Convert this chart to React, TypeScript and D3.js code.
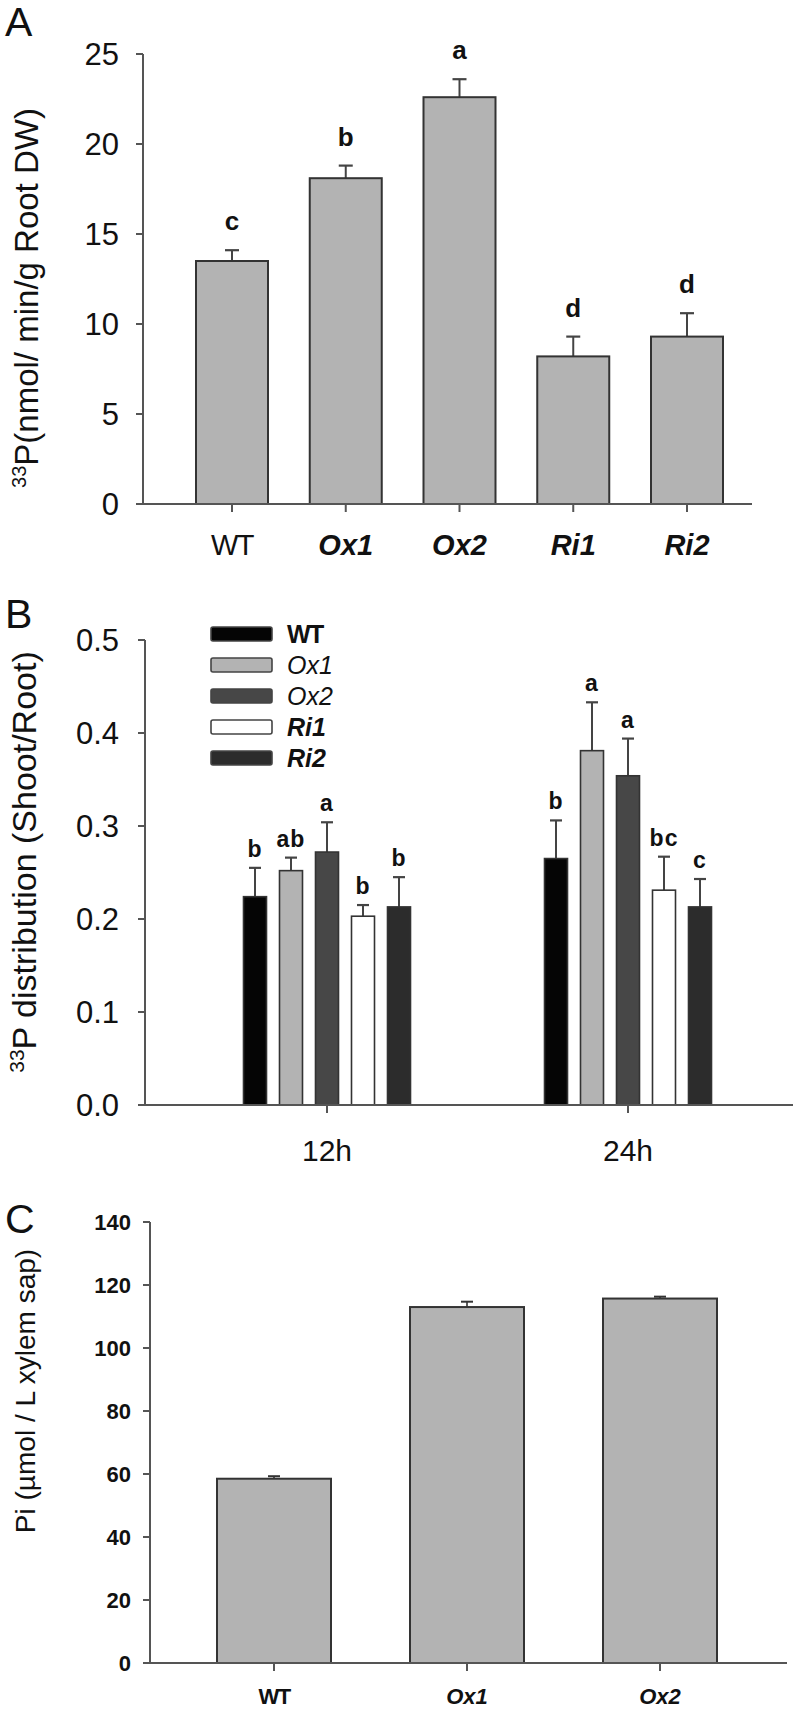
import React from "react";
import * as d3 from "d3";

// ---------- Panel A data ----------
const catsA = ["WT", "Ox1", "Ox2", "Ri1", "Ri2"];
const meansA = [13.5, 18.1, 22.6, 8.2, 9.3];
const errsA = [0.6, 0.7, 1.0, 1.1, 1.3];
const lettersA = ["c", "b", "a", "d", "d"];
const ticksA = [0, 5, 10, 15, 20, 25];

// ---------- Panel B data ----------
const timesB = ["12h", "24h"];
const seriesB = ["WT", "Ox1", "Ox2", "Ri1", "Ri2"];
const means12 = [0.224, 0.252, 0.272, 0.203, 0.213];
const errs12 = [0.031, 0.014, 0.032, 0.012, 0.032];
const means24 = [0.265, 0.381, 0.354, 0.231, 0.213];
const errs24 = [0.041, 0.052, 0.04, 0.036, 0.03];
const letters12 = ["b", "ab", "a", "b", "b"];
const letters24 = ["b", "a", "a", "bc", "c"];
const colorsB = ["#050505", "#b3b3b3", "#474747", "#ffffff", "#2c2c2c"];
const ticksB = [0, 0.1, 0.2, 0.3, 0.4, 0.5];

// ---------- Panel C data ----------
const catsC = ["WT", "Ox1", "Ox2"];
const meansC = [58.5, 113.0, 115.7];
const errsC = [0.8, 1.7, 0.6];
const ticksC = [0, 20, 40, 60, 80, 100, 120, 140];

const FONT = "'Liberation Sans', Arial, Helvetica, sans-serif";
const AX = "#555";
const TXT = "#111";

function PanelA() {
  const y = d3.scaleLinear().domain([0, 25]).range([504, 54]);
  const x = d3.scalePoint().domain(catsA).range([232, 687]);
  const bw = 72;
  const x0 = 143;
  return (
    <g>
      <text x={5} y={36} fontSize={41} fontFamily={FONT} fill={TXT}>A</text>
      {catsA.map((c, i) => {
        const cx = x(c)!;
        const top = y(meansA[i]);
        const cap = y(meansA[i] + errsA[i]);
        return (
          <g key={c}>
            <line x1={cx} x2={cx} y1={top} y2={cap} stroke="#444" strokeWidth={2} />
            <line x1={cx - 7} x2={cx + 7} y1={cap} y2={cap} stroke="#444" strokeWidth={2.2} />
            <rect x={cx - bw / 2} y={top} width={bw} height={y(0) - top} fill="#b3b3b3" stroke="#333" strokeWidth={2} />
            <text x={cx} y={cap - 20} textAnchor="middle" fontSize={26} fontWeight="bold" fontFamily={FONT} fill={TXT}>{lettersA[i]}</text>
            <line x1={cx} x2={cx} y1={y(0)} y2={y(0) + 8} stroke={AX} strokeWidth={2} />
            <text x={cx} y={555} textAnchor="middle" fontSize={29} fontFamily={FONT} fill={TXT}
              fontStyle={i === 0 ? "normal" : "italic"} fontWeight={i === 0 ? "normal" : "bold"}
              letterSpacing={i === 0 ? -1.5 : 0}>{c}</text>
          </g>
        );
      })}
      <line x1={x0} x2={x0} y1={y(25)} y2={y(0)} stroke={AX} strokeWidth={2} />
      <line x1={x0 - 1} x2={752} y1={y(0)} y2={y(0)} stroke={AX} strokeWidth={2} />
      {ticksA.map((t) => (
        <g key={t}>
          <line x1={x0 - 7} x2={x0} y1={y(t)} y2={y(t)} stroke={AX} strokeWidth={2} />
          <text x={119} y={y(t) + 11} textAnchor="end" fontSize={31} fontFamily={FONT} fill={TXT}>{t}</text>
        </g>
      ))}
      <text transform="translate(38,298) rotate(-90)" textAnchor="middle" fontSize={33} fontFamily={FONT} fill={TXT}>
        <tspan fontSize={20} dy={-12}>33</tspan>
        <tspan dy={12}>P(nmol/ min/g Root DW)</tspan>
      </text>
    </g>
  );
}

function PanelB() {
  const y = d3.scaleLinear().domain([0, 0.5]).range([1105, 640]);
  const xg = d3.scalePoint().domain(timesB).range([327, 628]);
  const xs = d3.scalePoint().domain(seriesB).range([-72, 72]);
  const bw = 23;
  const x0 = 145;
  const groups = [
    { t: timesB[0], m: means12, e: errs12, l: letters12 },
    { t: timesB[1], m: means24, e: errs24, l: letters24 },
  ];
  return (
    <g>
      <text x={5} y={628} fontSize={41} fontFamily={FONT} fill={TXT}>B</text>
      {groups.map((g) => (
        <g key={g.t}>
          {seriesB.map((s, i) => {
            const cx = xg(g.t)! + xs(s)!;
            const top = y(g.m[i]);
            const cap = y(g.m[i] + g.e[i]);
            return (
              <g key={s}>
                <line x1={cx} x2={cx} y1={top} y2={cap} stroke="#444" strokeWidth={2} />
                <line x1={cx - 6} x2={cx + 6} y1={cap} y2={cap} stroke="#444" strokeWidth={2.2} />
                <rect x={cx - bw / 2} y={top} width={bw} height={y(0) - top} fill={colorsB[i]} stroke="#333" strokeWidth={1.6} />
                <text x={cx} y={cap - 11} textAnchor="middle" fontSize={23} fontWeight="bold" fontFamily={FONT}
                  fill={TXT} letterSpacing={1}>{g.l[i]}</text>
              </g>
            );
          })}
          <line x1={xg(g.t)!} x2={xg(g.t)!} y1={y(0)} y2={y(0) + 8} stroke={AX} strokeWidth={2} />
          <text x={xg(g.t)!} y={1161} textAnchor="middle" fontSize={30} fontFamily={FONT} fill={TXT}>{g.t}</text>
        </g>
      ))}
      <line x1={x0} x2={x0} y1={y(0.5)} y2={y(0)} stroke={AX} strokeWidth={2} />
      <line x1={x0 - 1} x2={793} y1={y(0)} y2={y(0)} stroke={AX} strokeWidth={2} />
      {ticksB.map((t) => (
        <g key={t}>
          <line x1={x0 - 7} x2={x0} y1={y(t)} y2={y(t)} stroke={AX} strokeWidth={2} />
          <text x={119} y={y(t) + 11} textAnchor="end" fontSize={31} fontFamily={FONT} fill={TXT}>{d3.format(".1f")(t)}</text>
        </g>
      ))}
      {/* legend */}
      {seriesB.map((s, i) => {
        const ly = 634 + i * 31;
        return (
          <g key={s}>
            <rect x={211} y={ly - 7} width={61} height={14} rx={2} fill={colorsB[i]} stroke="#444" strokeWidth={1.6} />
            <text x={287} y={ly + 9} fontSize={25} fontFamily={FONT} fill={TXT}
              fontStyle={i === 0 ? "normal" : "italic"}
              fontWeight={i === 0 || i >= 3 ? "bold" : "normal"}
              letterSpacing={i === 0 ? -1.5 : 0}>{s}</text>
          </g>
        );
      })}
      <text transform="translate(36,862) rotate(-90)" textAnchor="middle" fontSize={34} fontFamily={FONT} fill={TXT}>
        <tspan fontSize={21} dy={-12}>33</tspan>
        <tspan dy={12}>P distribution (Shoot/Root)</tspan>
      </text>
    </g>
  );
}

function PanelC() {
  const y = d3.scaleLinear().domain([0, 140]).range([1663, 1222]);
  const x = d3.scalePoint().domain(catsC).range([274, 660]);
  const bw = 114;
  const x0 = 150;
  return (
    <g>
      <text x={5} y={1233} fontSize={41} fontFamily={FONT} fill={TXT}>C</text>
      {catsC.map((c, i) => {
        const cx = x(c)!;
        const top = y(meansC[i]);
        const cap = y(meansC[i] + errsC[i]);
        return (
          <g key={c}>
            <line x1={cx} x2={cx} y1={top} y2={cap} stroke="#333" strokeWidth={1.6} />
            <line x1={cx - 6} x2={cx + 6} y1={cap} y2={cap} stroke="#333" strokeWidth={2} />
            <rect x={cx - bw / 2} y={top} width={bw} height={y(0) - top} fill="#b3b3b3" stroke="#333" strokeWidth={2} />
            <line x1={cx} x2={cx} y1={y(0)} y2={y(0) + 8} stroke={AX} strokeWidth={2} />
            <text x={cx} y={1704} textAnchor="middle" fontSize={22} fontFamily={FONT} fill={TXT}
              fontWeight="bold" fontStyle={i === 0 ? "normal" : "italic"}
              letterSpacing={i === 0 ? -1.5 : 0}>{c}</text>
          </g>
        );
      })}
      <line x1={x0} x2={x0} y1={y(140)} y2={y(0)} stroke={AX} strokeWidth={2} />
      <line x1={x0 - 1} x2={787} y1={y(0)} y2={y(0)} stroke={AX} strokeWidth={2} />
      {ticksC.map((t) => (
        <g key={t}>
          <line x1={x0 - 7} x2={x0} y1={y(t)} y2={y(t)} stroke={AX} strokeWidth={2} />
          <text x={131} y={y(t) + 8} textAnchor="end" fontSize={22} fontWeight="bold" fontFamily={FONT} fill={TXT}>{t}</text>
        </g>
      ))}
      <text transform="translate(35,1391) rotate(-90)" textAnchor="middle" fontSize={28} fontFamily={FONT} fill={TXT}>
        Pi (µmol / L xylem sap)
      </text>
    </g>
  );
}

export default function App() {
  return (
    <svg width={800} height={1709} style={{ position: "absolute", left: 0, top: 0, background: "#fff" }}>
      <rect width={800} height={1709} fill="#fff" />
      <PanelA />
      <PanelB />
      <PanelC />
    </svg>
  );
}
